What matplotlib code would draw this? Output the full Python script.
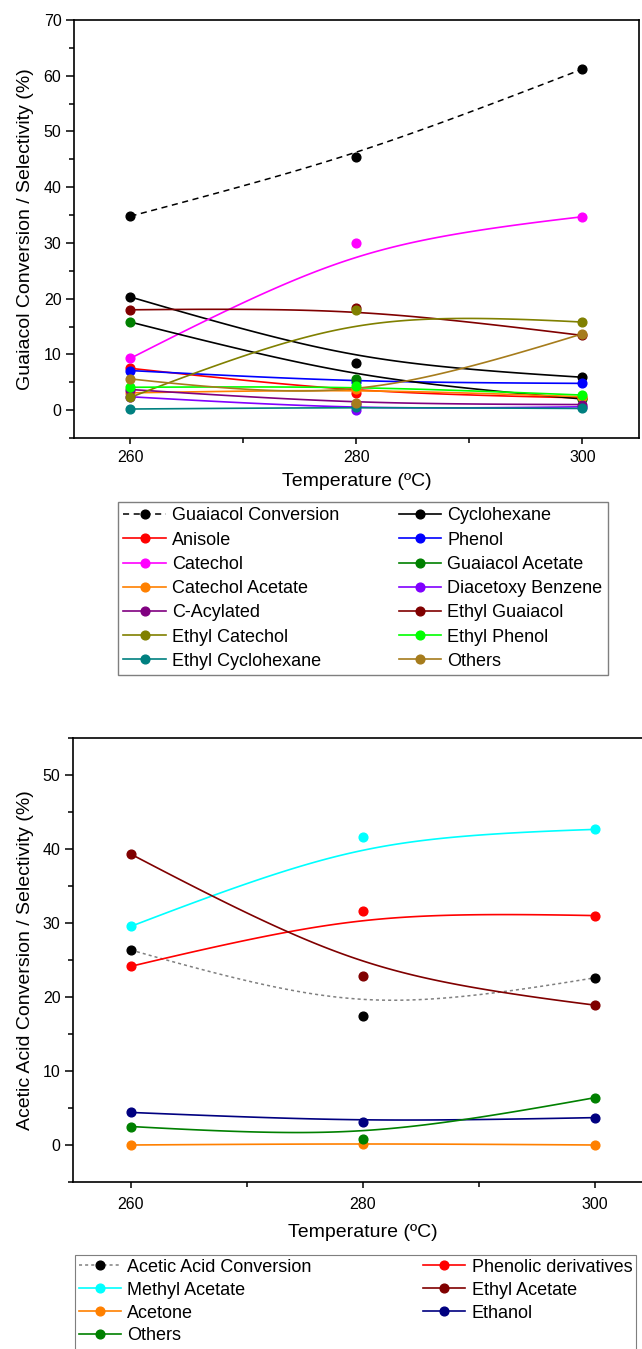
import numpy as np
import matplotlib
matplotlib.use("Agg")
import matplotlib.pyplot as plt
from matplotlib.lines import Line2D
from matplotlib.patches import Rectangle
from matplotlib.ticker import MultipleLocator

plt.rcParams["font.family"] = ["Liberation Sans", "DejaVu Sans"]

temps = [260, 280, 300]

# guaiacol panel (%)
guaiacol_conversion = [34.8, 45.5, 61.2]
cyclohexane = [20.3, 8.4, 5.9]
anisole = [7.5, 3.1, 2.2]
phenol = [7.1, 5.0, 4.8]
catechol = [9.3, 30.0, 34.7]
guaiacol_acetate = [15.8, 5.5, 2.0]
catechol_acetate = [3.1, 3.8, 2.4]
diacetoxy_benzene = [2.4, 0.1, 0.6]
c_acylated = [3.7, 1.1, 1.0]
ethyl_guaiacol = [18.0, 18.4, 13.4]
ethyl_catechol = [2.3, 17.9, 15.8]
ethyl_phenol = [4.1, 4.3, 2.7]
ethyl_cyclohexane = [0.2, 0.5, 0.3]
others_g = [5.6, 1.2, 13.7]

# acetic acid panel (%)
acetic_conversion = [26.35, 17.4, 22.6]
phenolic_derivatives = [24.15, 31.6, 31.0]
methyl_acetate = [29.55, 41.6, 42.65]
ethyl_acetate = [39.3, 22.85, 18.9]
acetone = [0.0, 0.2, 0.0]
ethanol = [4.4, 3.1, 3.7]
others_a = [2.5, 0.75, 6.4]


def bspline(x, y, w=2.1, n=120):
    # Origin-like B-spline connector through 3 points (rational quadratic bezier)
    t = np.linspace(0, 1, n)
    b0, b1, b2 = (1 - t) ** 2, 2 * w * t * (1 - t), t ** 2
    den = b0 + b1 + b2
    xs = (b0 * x[0] + b1 * x[1] + b2 * x[2]) / den
    ys = (b0 * y[0] + b1 * y[1] + b2 * y[2]) / den
    return xs, ys


def style_axes(ax):
    for s in ax.spines.values():
        s.set_linewidth(1.2)
    ax.tick_params(axis="x", which="major", length=4.5, width=1.1, labelsize=11.5, pad=4)
    ax.tick_params(axis="x", which="minor", length=3.5, width=1.1)
    ax.tick_params(axis="y", which="major", length=6, width=1.1, labelsize=11.5, pad=3)
    ax.tick_params(axis="y", which="minor", length=3.6, width=1.1)
    ax.tick_params(which="both", direction="out", top=False, right=False)
    ax.xaxis.set_major_locator(MultipleLocator(20))
    ax.xaxis.set_minor_locator(MultipleLocator(10))
    ax.yaxis.set_major_locator(MultipleLocator(10))
    ax.yaxis.set_minor_locator(MultipleLocator(5))
    ax.set_xlim(255, 305)


def draw(ax, series):
    # series given in plotting (row-major legend) order
    handles = []
    for label, vals, color, ls, lcolor, hcolor in series:
        xs, ys = bspline(temps, vals)
        lw = 1.2 if ls == "-" else 1.1
        ax.plot(xs, ys, color=lcolor, ls=ls, lw=lw, zorder=2)
        ax.plot(temps, vals, "o", color=color, ms=6.3, zorder=3)
        handles.append(Line2D([], [], color=hcolor, ls=ls, lw=lw,
                              marker="o", ms=6.3, mfc=color, mec=color, label=label))
    # two-column legend fills columns first
    return handles[0::2] + handles[1::2]


fig = plt.figure(figsize=(6.42, 13.49), dpi=100)

# ---- top panel: guaiacol ----
ax1 = fig.add_axes([74 / 642, 1 - 438 / 1349, 565 / 642, 418 / 1349])
top_series = [
    ("Guaiacol Conversion", guaiacol_conversion, "black", (0, (4, 3)), "black", "black"),
    ("Cyclohexane", cyclohexane, "black", "-", "black", "black"),
    ("Anisole", anisole, "#FF0000", "-", "#FF0000", "#FF0000"),
    ("Phenol", phenol, "#0000FF", "-", "#0000FF", "#0000FF"),
    ("Catechol", catechol, "#FF00FF", "-", "#FF00FF", "#FF00FF"),
    ("Guaiacol Acetate", guaiacol_acetate, "#008000", "-", "black", "#008000"),
    ("Catechol Acetate", catechol_acetate, "#FF8000", "-", "#FF8000", "#FF8000"),
    ("Diacetoxy Benzene", diacetoxy_benzene, "#8000FF", "-", "#8000FF", "#8000FF"),
    ("C-Acylated", c_acylated, "#800080", "-", "#800080", "#800080"),
    ("Ethyl Guaiacol", ethyl_guaiacol, "#800000", "-", "#800000", "#800000"),
    ("Ethyl Catechol", ethyl_catechol, "#808000", "-", "#808000", "#808000"),
    ("Ethyl Phenol", ethyl_phenol, "#00FF00", "-", "#00FF00", "#00FF00"),
    ("Ethyl Cyclohexane", ethyl_cyclohexane, "#008080", "-", "#008080", "#008080"),
    ("Others", others_g, "#A67C1C", "-", "#A67C1C", "#A67C1C"),
]
h1 = draw(ax1, top_series)
style_axes(ax1)
ax1.set_ylim(-5, 70)
ax1.set_xlabel("Temperature (ºC)", fontsize=14, labelpad=6)
ax1.set_ylabel("Guaiacol Conversion / Selectivity (%)", fontsize=14, labelpad=7)

fig.legend(handles=h1, ncol=2, loc="upper left",
           bbox_to_anchor=(118 / 642, 1 - 674 / 1349, 490 / 642, 172 / 1349),
           mode="expand", borderaxespad=0, fontsize=13, handlelength=2.35,
           handletextpad=0.35, labelspacing=0.40, borderpad=0.3,
           fancybox=False, edgecolor="#7f7f7f", framealpha=1)

# ---- bottom panel: acetic acid ----
ax2 = fig.add_axes([73 / 642, 1 - 1182 / 1349, 580 / 642, 444 / 1349])
bottom_series = [
    ("Acetic Acid Conversion", acetic_conversion, "black", (0, (2, 2)), "#808080", "#808080"),
    ("Phenolic derivatives", phenolic_derivatives, "#FF0000", "-", "#FF0000", "#FF0000"),
    ("Methyl Acetate", methyl_acetate, "#00FFFF", "-", "#00FFFF", "#00FFFF"),
    ("Ethyl Acetate", ethyl_acetate, "#800000", "-", "#800000", "#800000"),
    ("Acetone", acetone, "#FF8000", "-", "#FF8000", "#FF8000"),
    ("Ethanol", ethanol, "#000080", "-", "#000080", "#000080"),
    ("Others", others_a, "#008000", "-", "#008000", "#008000"),
]
h2 = draw(ax2, bottom_series)
style_axes(ax2)
ax2.tick_params(axis="x", which="major", pad=6)
ax2.set_ylim(-5, 55)
ax2.set_xlabel("Temperature (ºC)", fontsize=14, labelpad=9)
ax2.set_ylabel("Acetic Acid Conversion / Selectivity (%)", fontsize=14, labelpad=6)

# legend frame runs off the bottom edge in the original
fig.legend(handles=h2, ncol=2, loc="upper left",
           bbox_to_anchor=(75 / 642, 1 - 1360 / 1349, 561 / 642, 105 / 1349),
           mode="expand", borderaxespad=0, fontsize=13, handlelength=2.35,
           handletextpad=0.35, labelspacing=0.33, borderpad=0.2, frameon=False)
fig.patches.append(Rectangle((75 / 642, -0.01), 561 / 642, 0.01 + (1349 - 1255) / 1349,
                             transform=fig.transFigure, fill=False,
                             edgecolor="#7f7f7f", lw=0.8))

fig.savefig("out.png", dpi=100)
